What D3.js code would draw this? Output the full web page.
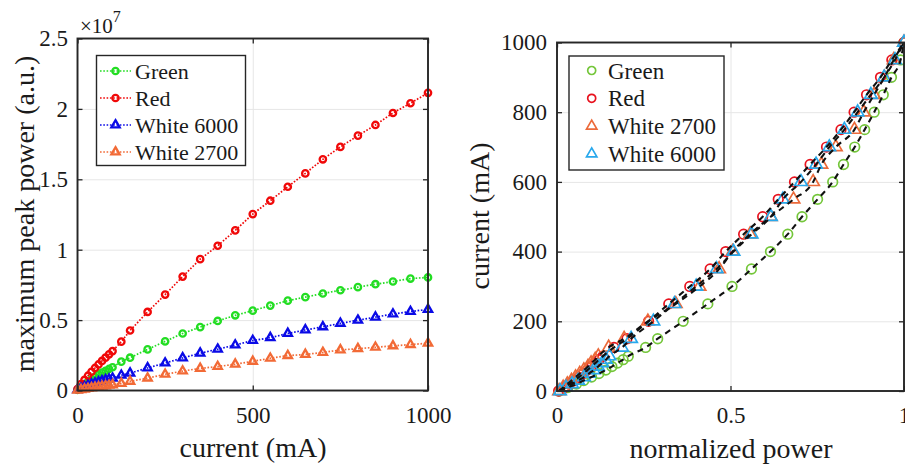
<!DOCTYPE html>
<html>
<head>
<meta charset="utf-8">
<script src="https://cdn.jsdelivr.net/npm/d3@7"></script>
<style>
  html, body { margin: 0; padding: 0; background: #fff; }
  svg { display: block; font-family: "Liberation Serif", "Times New Roman", serif; }
</style>
</head>
<body>
<svg id="chart" width="905" height="470"></svg>
<script>
// Drive currents (mA) at which each LED was measured
const currents = [0, 10, 20, 30, 40, 50, 60, 70, 80, 90, 100, 125, 150, 200, 250, 300, 350, 400, 450, 500,
                  550, 600, 650, 700, 750, 800, 850, 900, 950, 1000];

// Maximum peak power, in units of 1e7 (a.u.)
const greenPower = [0.005, 0.025, 0.045, 0.062, 0.080, 0.097, 0.113, 0.127, 0.140, 0.153, 0.165, 0.205, 0.233, 0.292, 0.349,
                    0.405, 0.450, 0.494, 0.534, 0.567, 0.603, 0.638, 0.663, 0.689, 0.712, 0.734, 0.755, 0.774, 0.795, 0.803];
const redPower = [0.010, 0.045, 0.075, 0.105, 0.133, 0.160, 0.185, 0.210, 0.233, 0.257, 0.280, 0.347, 0.426, 0.558, 0.681,
                  0.809, 0.933, 1.028, 1.137, 1.253, 1.348, 1.447, 1.542, 1.642, 1.730, 1.810, 1.886, 1.971, 2.040, 2.114];
const white6000Power = [0.005, 0.015, 0.025, 0.035, 0.045, 0.053, 0.061, 0.068, 0.075, 0.081, 0.087, 0.108, 0.123, 0.160, 0.195,
                        0.231, 0.265, 0.293, 0.323, 0.355, 0.375, 0.405, 0.430, 0.452, 0.477, 0.499, 0.521, 0.543, 0.561, 0.576];
const white2700Power = [0.002, 0.006, 0.010, 0.014, 0.018, 0.022, 0.026, 0.030, 0.033, 0.037, 0.040, 0.050, 0.065, 0.088, 0.115,
                        0.138, 0.157, 0.170, 0.187, 0.207, 0.229, 0.248, 0.256, 0.270, 0.288, 0.297, 0.307, 0.317, 0.326, 0.336];

// Axis ticks
const leftXTicks = [0, 500, 1000];
const leftYTicks = [0, 0.5, 1, 1.5, 2, 2.5];
const rightXTicks = [0, 0.5, 1];
const rightYTicks = [0, 200, 400, 600, 800, 1000];

const svg = d3.select("#chart");
const AXIS = "#262626";
const GRID = "#e6e6e6";
const TEXT = "#1a1a1a";

// Left panel: peak power vs current
const xL = d3.scaleLinear().domain([0, 1000]).range([77.5, 428]);
const yL = d3.scaleLinear().domain([0, 2.5]).range([390.5, 38.5]);

// Right panel: current vs normalized power
const xR = d3.scaleLinear().domain([0, 1]).range([557, 904]);
const yR = d3.scaleLinear().domain([0, 1000]).range([391, 42.5]);

function drawGrid(x, y, xt, yt) {
  const [x0, x1] = x.range();
  const [y0, y1] = y.range();
  const g = svg.append("g");
  g.append("g").attr("transform", `translate(0,${y0})`)
    .call(d3.axisBottom(x).tickValues(xt).tickSize(-(y0 - y1)).tickFormat(""))
    .call(a => { a.select(".domain").remove(); a.selectAll("line").attr("stroke", GRID).attr("stroke-width", 1); });
  g.append("g").attr("transform", `translate(${x0},0)`)
    .call(d3.axisLeft(y).tickValues(yt).tickSize(-(x1 - x0)).tickFormat(""))
    .call(a => { a.select(".domain").remove(); a.selectAll("line").attr("stroke", GRID).attr("stroke-width", 1); });
}

function drawAxes(x, y, xt, yt, xfmt, yfmt, xPad, yPad) {
  const [x0, x1] = x.range();
  const [y0, y1] = y.range();
  const g = svg.append("g");
  const style = a => {
    a.select(".domain").remove();
    a.selectAll("line").attr("stroke", AXIS).attr("stroke-width", 1.3);
    a.selectAll("text").attr("fill", TEXT).attr("font-size", 23).attr("font-family", "Liberation Serif");
  };
  g.append("g").attr("transform", `translate(0,${y0})`)
    .call(d3.axisBottom(x).tickValues(xt).tickSizeInner(-5).tickSizeOuter(0).tickPadding(xPad).tickFormat(xfmt)).call(style);
  g.append("g").attr("transform", `translate(0,${y1})`)
    .call(d3.axisTop(x).tickValues(xt).tickSizeInner(-5).tickSizeOuter(0).tickFormat("")).call(style);
  g.append("g").attr("transform", `translate(${x0},0)`)
    .call(d3.axisLeft(y).tickValues(yt).tickSizeInner(-5).tickSizeOuter(0).tickPadding(yPad).tickFormat(yfmt)).call(style);
  g.append("g").attr("transform", `translate(${x1},0)`)
    .call(d3.axisRight(y).tickValues(yt).tickSizeInner(-5).tickSizeOuter(0).tickFormat("")).call(style);
  g.append("rect").attr("x", x0).attr("y", y1).attr("width", x1 - x0).attr("height", y0 - y1)
    .attr("fill", "none").attr("stroke", AXIS).attr("stroke-width", 1.9);
}

drawGrid(xL, yL, leftXTicks, leftYTicks);
drawGrid(xR, yR, rightXTicks, rightYTicks);

// Series styles for the left panel
const leftSeries = [
  { name: "Green", values: greenPower, color: "#22dd22", shape: "circle" },
  { name: "Red", values: redPower, color: "#f00808", shape: "circle" },
  { name: "White 6000", values: white6000Power, color: "#0a0ae6", shape: "triangle" },
  { name: "White 2700", values: white2700Power, color: "#f26a36", shape: "triangle" }
];

const tri = (s) => d3.symbol().type(d3.symbolTriangle).size(s)();

function marker(sel, shape, color, r, sw) {
  if (shape === "circle") {
    sel.append("circle").attr("r", r).attr("fill", "none").attr("stroke", color).attr("stroke-width", sw);
  } else {
    const side = r * 2.6;
    sel.append("path").attr("d", tri(side * side * Math.sqrt(3) / 4))
      .attr("fill", "none").attr("stroke", color).attr("stroke-width", sw).attr("stroke-linejoin", "miter");
  }
}

const lineL = d3.line().x(d => xL(d[0])).y(d => yL(d[1]));
leftSeries.forEach(s => {
  const pts = currents.map((c, i) => [c, s.values[i]]);
  const g = svg.append("g");
  g.append("path").attr("d", lineL(pts)).attr("fill", "none").attr("stroke", s.color)
    .attr("stroke-width", 1.7).attr("stroke-dasharray", "1.6,1.7");
  g.selectAll("g.m").data(pts).join("g").attr("class", "m")
    .attr("transform", d => `translate(${xL(d[0])},${yL(d[1])})`)
    .each(function () { marker(d3.select(this), s.shape, s.color, 3.2, 2.3); });
});

// Right panel: each series normalized to its value at 1000 mA
const rightSeries = [
  { name: "Green", values: greenPower, color: "#74c63a", shape: "circle" },
  { name: "Red", values: redPower, color: "#e8121e", shape: "circle" },
  { name: "White 2700", values: white2700Power, color: "#ec6a3a", shape: "triangle" },
  { name: "White 6000", values: white6000Power, color: "#28a8ec", shape: "triangle" }
];

rightSeries.forEach(s => {
  const pmax = s.values[s.values.length - 1];
  s.pts = currents.map((c, i) => [s.values[i] / pmax, c]);
  svg.append("g").selectAll("g").data(s.pts).join("g")
    .attr("transform", d => `translate(${xR(d[0])},${yR(d[1])})`)
    .each(function () { marker(d3.select(this), s.shape, s.color, 4.8, 1.7); });
});

const lineR = d3.line().x(d => xR(d[0])).y(d => yR(d[1])).curve(d3.curveMonotoneX);
rightSeries.forEach(s => {
  svg.append("path").attr("d", lineR(s.pts)).attr("fill", "none").attr("stroke", "#111")
    .attr("stroke-width", 2.1).attr("stroke-dasharray", "6,5");
});

drawAxes(xL, yL, leftXTicks, leftYTicks, d3.format("d"), d => String(d), 16, 9.5);
drawAxes(xR, yR, rightXTicks, rightYTicks, d => String(d), d3.format("d"), 16, 10);

// Exponent label for the left y axis
const expo = svg.append("text").attr("x", 80).attr("y", 33).attr("font-size", 21).attr("fill", TEXT);
expo.append("tspan").text("×10");
expo.append("tspan").attr("dy", -11).attr("font-size", 16).text("7");

// Axis titles
svg.append("text").attr("x", 253).attr("y", 457).attr("text-anchor", "middle")
  .attr("font-size", 28).attr("fill", TEXT).text("current (mA)");
svg.append("text").attr("transform", "translate(34,214) rotate(-90)").attr("text-anchor", "middle")
  .attr("font-size", 28).attr("fill", TEXT).text("maximum peak power (a.u.)");
svg.append("text").attr("x", 731).attr("y", 458).attr("text-anchor", "middle")
  .attr("font-size", 28).attr("fill", TEXT).text("normalized power");
svg.append("text").attr("transform", "translate(489,216) rotate(-90)").attr("text-anchor", "middle")
  .attr("font-size", 28).attr("fill", TEXT).text("current (mA)");

// Left legend
const legL = svg.append("g");
legL.append("rect").attr("x", 96.5).attr("y", 55.5).attr("width", 149).attr("height", 110)
  .attr("fill", "#fff").attr("stroke", AXIS).attr("stroke-width", 1.4);
leftSeries.forEach((s, i) => {
  const cy = 71 + i * 27;
  legL.append("line").attr("x1", 100).attr("x2", 131).attr("y1", cy).attr("y2", cy)
    .attr("stroke", s.color).attr("stroke-width", 1.7).attr("stroke-dasharray", "1.6,1.7");
  const m = legL.append("g").attr("transform", `translate(115.5,${cy})`);
  marker(m, s.shape, s.color, 3.2, 2.3);
  legL.append("text").attr("x", 135).attr("y", cy + 8).attr("font-size", 22).attr("fill", TEXT).text(s.name);
});

// Right legend
const legR = svg.append("g");
legR.append("rect").attr("x", 569).attr("y", 56).attr("width", 155).attr("height", 114)
  .attr("fill", "#fff").attr("stroke", AXIS).attr("stroke-width", 1.4);
rightSeries.forEach((s, i) => {
  const cy = 70.5 + i * 27.8;
  const m = legR.append("g").attr("transform", `translate(591.7,${cy})`);
  marker(m, s.shape, s.color, 4, 1.7);
  legR.append("text").attr("x", 608).attr("y", cy + 8).attr("font-size", 23).attr("fill", TEXT).text(s.name);
});
</script>
</body>
</html>
